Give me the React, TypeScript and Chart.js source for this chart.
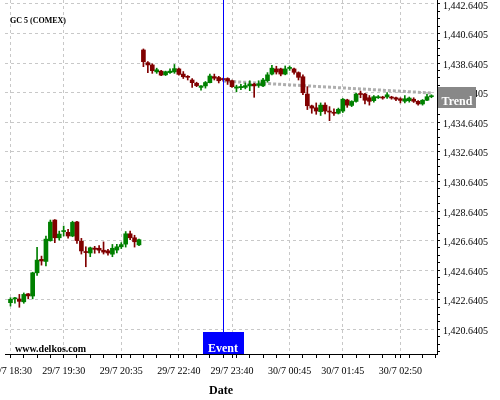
import React, { useEffect, useRef } from 'react';
import { Chart, registerables } from 'chart.js';

Chart.register(...registerables);

const OPEN = [
  1422.44, 1422.70, 1422.69, 1422.50, 1423.04, 1422.89, 1424.46, 1425.37, 1425.23, 1426.63,
  1428.03, 1426.83, 1427.25, 1427.20, 1426.95, 1427.90, 1426.60, 1425.90, 1425.80, 1426.13,
  1426.12, 1425.99, 1425.95, 1425.72, 1426.00, 1426.22, 1426.40, 1427.10, 1426.83, 1426.35,
  1439.53, 1438.67, 1438.52, 1438.05, 1438.10, 1437.85, 1438.00, 1438.05, 1438.25, 1437.90,
  1437.75, 1437.50, 1437.28, 1437.00, 1437.10, 1437.32, 1437.73, 1437.67, 1437.56, 1437.60,
  1437.45, 1436.95, 1436.98, 1437.00, 1437.10, 1437.22, 1437.13, 1437.10, 1437.45, 1437.90,
  1438.25, 1438.25, 1437.90, 1438.28, 1438.25, 1438.00, 1437.72, 1436.55, 1435.75, 1435.62,
  1435.36, 1435.80, 1435.40, 1435.30, 1435.25, 1435.40, 1436.15, 1435.78, 1436.05, 1436.58,
  1436.55, 1436.30, 1436.10, 1436.30, 1436.33, 1436.35, 1436.35, 1436.30, 1436.23, 1436.06,
  1436.10, 1436.20, 1436.06, 1435.88, 1436.13, 1436.37,
];
const HIGH = [
  1422.78, 1422.80, 1423.00, 1423.10, 1423.06, 1424.50, 1426.18, 1425.59, 1426.94, 1428.03,
  1428.06, 1427.28, 1427.62, 1427.40, 1427.95, 1427.95, 1426.79, 1426.22, 1426.20, 1426.25,
  1426.30, 1426.55, 1426.05, 1426.38, 1426.38, 1426.50, 1427.25, 1427.28, 1427.00, 1426.75,
  1439.60, 1438.75, 1438.60, 1438.30, 1438.15, 1438.10, 1438.25, 1438.55, 1438.30, 1438.07,
  1437.80, 1437.60, 1437.35, 1437.12, 1437.40, 1437.90, 1437.90, 1437.75, 1437.63, 1437.65,
  1437.50, 1437.15, 1437.20, 1437.30, 1437.45, 1437.28, 1437.45, 1437.62, 1438.00, 1438.50,
  1438.43, 1438.30, 1438.45, 1438.45, 1438.30, 1438.05, 1437.85, 1437.05, 1435.80, 1435.95,
  1435.95, 1435.95, 1435.70, 1435.55, 1435.60, 1436.25, 1436.20, 1436.10, 1436.62, 1436.75,
  1436.60, 1436.45, 1436.45, 1436.45, 1436.40, 1436.65, 1436.40, 1436.35, 1436.30, 1436.45,
  1436.35, 1436.30, 1436.10, 1436.18, 1436.55, 1436.50,
];
const LOW = [
  1422.21, 1422.40, 1422.13, 1422.40, 1422.70, 1422.70, 1424.29, 1424.98, 1424.92, 1426.60,
  1426.50, 1426.67, 1426.95, 1426.80, 1426.90, 1426.44, 1425.73, 1424.87, 1425.55, 1425.78,
  1425.80, 1425.73, 1425.65, 1425.55, 1425.80, 1426.10, 1426.20, 1426.70, 1426.20, 1426.30,
  1438.40, 1437.99, 1437.95, 1437.95, 1437.80, 1437.80, 1437.95, 1437.95, 1437.82, 1437.60,
  1437.50, 1437.00, 1437.05, 1436.82, 1436.95, 1437.30, 1437.50, 1437.30, 1437.42, 1437.20,
  1437.00, 1436.70, 1436.85, 1436.90, 1436.78, 1436.33, 1437.00, 1437.05, 1437.35, 1437.85,
  1437.90, 1437.78, 1437.85, 1438.15, 1437.90, 1437.50, 1436.50, 1435.50, 1435.25, 1435.18,
  1435.10, 1435.20, 1434.75, 1435.10, 1435.20, 1435.30, 1435.65, 1435.70, 1436.00, 1436.30,
  1435.88, 1435.80, 1436.00, 1436.25, 1436.20, 1436.25, 1436.20, 1436.10, 1435.95, 1435.95,
  1436.00, 1435.98, 1435.80, 1435.80, 1436.10, 1436.30,
];
const CLOSE = [
  1422.67, 1422.76, 1422.53, 1423.00, 1422.90, 1424.46, 1425.32, 1425.26, 1426.74, 1427.89,
  1426.83, 1427.08, 1427.28, 1426.95, 1427.87, 1426.64, 1425.94, 1425.83, 1426.15, 1426.05,
  1425.99, 1425.86, 1425.80, 1426.12, 1426.22, 1426.37, 1427.10, 1426.83, 1426.56, 1426.70,
  1438.74, 1438.52, 1438.13, 1438.19, 1437.83, 1438.06, 1438.10, 1438.27, 1437.88, 1437.72,
  1437.68, 1437.32, 1437.12, 1437.10, 1437.33, 1437.77, 1437.62, 1437.45, 1437.53, 1437.43,
  1437.05, 1437.03, 1437.06, 1437.12, 1437.23, 1437.10, 1437.25, 1437.50, 1437.85, 1438.30,
  1438.04, 1437.90, 1438.25, 1438.35, 1438.02, 1437.68, 1436.64, 1435.76, 1435.60, 1435.40,
  1435.80, 1435.40, 1435.33, 1435.25, 1435.52, 1436.20, 1435.80, 1436.05, 1436.55, 1436.52,
  1436.13, 1436.06, 1436.37, 1436.37, 1436.28, 1436.50, 1436.28, 1436.20, 1436.12, 1436.23,
  1436.28, 1436.06, 1435.88, 1436.13, 1436.37, 1436.44,
];

const X_TICK_INDEX = [0, 12, 25, 38, 50, 63, 75, 88];
const X_TICK_LABELS = [
  '29/7 18:30', '29/7 19:30', '29/7 20:35', '29/7 22:40',
  '29/7 23:40', '30/7 00:45', '30/7 01:45', '30/7 02:50',
];
const Y_LABEL_VALUES = [
  1420.6405, 1422.6405, 1424.6405, 1426.6405, 1428.6405, 1430.6405,
  1432.6405, 1434.6405, 1436.6405, 1438.6405, 1440.6405, 1442.6405,
];
const Y_MINOR_STEP = 0.5;
const X_MINOR_STEP = 3;

const EVENT_INDEX = 48;
const TREND_INDEX = [48, 95];
const TREND_VALUE = [1437.43, 1436.62];

const TITLE = 'GC 5 (COMEX)';
const WATERMARK = 'www.delkos.com';
const EVENT_LABEL = 'Event';
const TREND_LABEL = 'Trend';
const X_TITLE = 'Date';

const FONT = '"Liberation Serif", "Times New Roman", serif';
const UP = '#008000';
const DOWN = '#800000';
const GRID = '#c8c8c8';

const X_MIN = -1.24;
const X_MAX = 96.26;
const Y_MIN = 1418.97;
const Y_MAX = 1442.91;

const isMajorY = (v: number) => {
  const k = (v - Y_LABEL_VALUES[0]) / 2;
  return Math.abs(k - Math.round(k)) < 1e-6;
};
const isMajorX = (v: number) => X_TICK_INDEX.indexOf(v) >= 0;

const overlay = {
  id: 'overlay',
  afterDraw(chart: any) {
    const { ctx, chartArea, scales } = chart;
    const xs = scales.x;
    const ys = scales.y;
    ctx.save();
    ctx.fillStyle = '#000';
    ctx.textAlign = 'left';
    ctx.textBaseline = 'middle';
    ctx.font = `bold 8px ${FONT}`;
    ctx.fillText(TITLE, 10, 21);
    ctx.font = `bold 10px ${FONT}`;
    ctx.fillText(WATERMARK, 15, 349);

    // event marker
    const ex = Math.round(xs.getPixelForValue(EVENT_INDEX)) + 0.5;
    const boxW = 41;
    const boxH = 22;
    const boxTop = chartArea.bottom - boxH;
    ctx.strokeStyle = '#0000ff';
    ctx.lineWidth = 1;
    ctx.beginPath();
    ctx.moveTo(ex, chartArea.top);
    ctx.lineTo(ex, boxTop);
    ctx.stroke();
    ctx.fillStyle = '#0000ff';
    ctx.fillRect(Math.round(ex - 21), boxTop, boxW, boxH);
    ctx.fillStyle = '#ffffff';
    ctx.font = `bold 12px ${FONT}`;
    ctx.textAlign = 'center';
    ctx.textBaseline = 'alphabetic';
    ctx.fillText(EVENT_LABEL, ex - 0.5, boxTop + 19.5);

    // trend label
    const ty = ys.getPixelForValue(TREND_VALUE[TREND_VALUE.length - 1]);
    const tTop = Math.round(ty - 6);
    ctx.fillStyle = '#888888';
    ctx.fillRect(chartArea.right + 1, tTop, 38, 21);
    ctx.fillStyle = '#ffffff';
    ctx.fillText(TREND_LABEL, chartArea.right + 20, tTop + 18);
    ctx.restore();
  },
};

export default function App() {
  const ref = useRef<HTMLCanvasElement>(null);

  useEffect(() => {
    const colors = OPEN.map((o, i) => (CLOSE[i] >= o ? UP : DOWN));
    const xTicks: number[] = [];
    for (let i = 0; i <= X_MAX; i++) {
      if (i % X_MINOR_STEP === 0 || isMajorX(i)) xTicks.push(i);
    }
    const yTicks: number[] = [];
    for (let v = Y_LABEL_VALUES[0] - 2; v <= Y_MAX; v += Y_MINOR_STEP) {
      if (v >= Y_MIN) yTicks.push(Math.round(v * 10000) / 10000);
    }

    const chart = new Chart(ref.current as HTMLCanvasElement, {
      type: 'bar',
      data: {
        datasets: [
          {
            type: 'bar',
            label: 'body',
            data: OPEN.map((o, i) => ({ x: i, y: [o, CLOSE[i]] })) as any,
            backgroundColor: colors,
            borderWidth: 0,
            barThickness: 4,
            grouped: false,
            minBarLength: 1,
            order: 0,
          } as any,
          {
            type: 'bar',
            label: 'wick',
            data: LOW.map((l, i) => ({ x: i, y: [l, HIGH[i]] })) as any,
            backgroundColor: colors,
            borderWidth: 0,
            barThickness: 1,
            grouped: false,
            order: 1,
          } as any,
          {
            type: 'line',
            label: 'trend',
            data: TREND_INDEX.map((x, k) => ({ x, y: TREND_VALUE[k] })) as any,
            borderColor: 'rgba(165,165,165,0.9)',
            borderWidth: 3,
            borderDash: [3, 2],
            pointRadius: 0,
            order: 2,
          } as any,
        ],
      },
      options: {
        responsive: false,
        animation: false,
        events: [],
        layout: { autoPadding: false, padding: { left: 5, right: 0, top: 0, bottom: 0 } } as any,
        plugins: { legend: { display: false }, tooltip: { enabled: false } },
        scales: {
          x: {
            type: 'linear',
            min: X_MIN,
            max: X_MAX,
            offset: false,
            afterBuildTicks: (s: any) => {
              s.ticks = xTicks.map((v) => ({ value: v }));
            },
            afterFit: (s: any) => {
              s.height = 46;
              s.paddingLeft = 0;
              s.paddingRight = 0;
              s.paddingTop = 0;
              s.paddingBottom = 0;
            },
            ticks: {
              autoSkip: false,
              maxRotation: 0,
              padding: 7,
              color: '#000',
              font: { family: FONT, size: 10 },
              callback: (v: any) => {
                const k = X_TICK_INDEX.indexOf(Number(v));
                return k >= 0 ? X_TICK_LABELS[k] : '';
              },
            },
            grid: {
              offset: false,
              color: (c: any) => (c.tick && isMajorX(c.tick.value) ? GRID : 'rgba(0,0,0,0)'),
              tickColor: '#000',
              tickLength: 4,
              lineWidth: 1,
            },
            border: { display: true, color: '#000', width: 1, dash: [3, 3] },
            title: {
              display: true,
              text: X_TITLE,
              color: '#000',
              font: { family: FONT, size: 12, weight: 'bold' },
              padding: { top: 0, bottom: 2 },
            },
          } as any,
          y: {
            type: 'linear',
            position: 'right',
            min: Y_MIN,
            max: Y_MAX,
            afterBuildTicks: (s: any) => {
              s.ticks = yTicks.map((v) => ({ value: v }));
            },
            afterFit: (s: any) => {
              s.width = 63;
              s.paddingLeft = 0;
              s.paddingRight = 0;
              s.paddingTop = 0;
              s.paddingBottom = 0;
            },
            ticks: {
              autoSkip: false,
              padding: 3,
              labelOffset: 2,
              color: '#000',
              font: { family: FONT, size: 10 },
              callback: (v: any) =>
                isMajorY(Number(v))
                  ? Number(v).toLocaleString('en-US', { minimumFractionDigits: 4, maximumFractionDigits: 4 })
                  : '',
            },
            grid: {
              color: (c: any) => (c.tick && isMajorY(c.tick.value) ? GRID : 'rgba(0,0,0,0)'),
              tickColor: '#000',
              tickLength: 3,
              lineWidth: 1,
            },
            border: { display: true, color: '#000', width: 1, dash: [3, 3] },
          } as any,
        },
      },
      plugins: [overlay],
    });
    return () => chart.destroy();
  }, []);

  return (
    <div style={{ position: 'fixed', left: 0, top: 0, width: 500, height: 400, background: '#fff' }}>
      <canvas ref={ref} width={500} height={400} style={{ display: 'block' }} />
    </div>
  );
}
